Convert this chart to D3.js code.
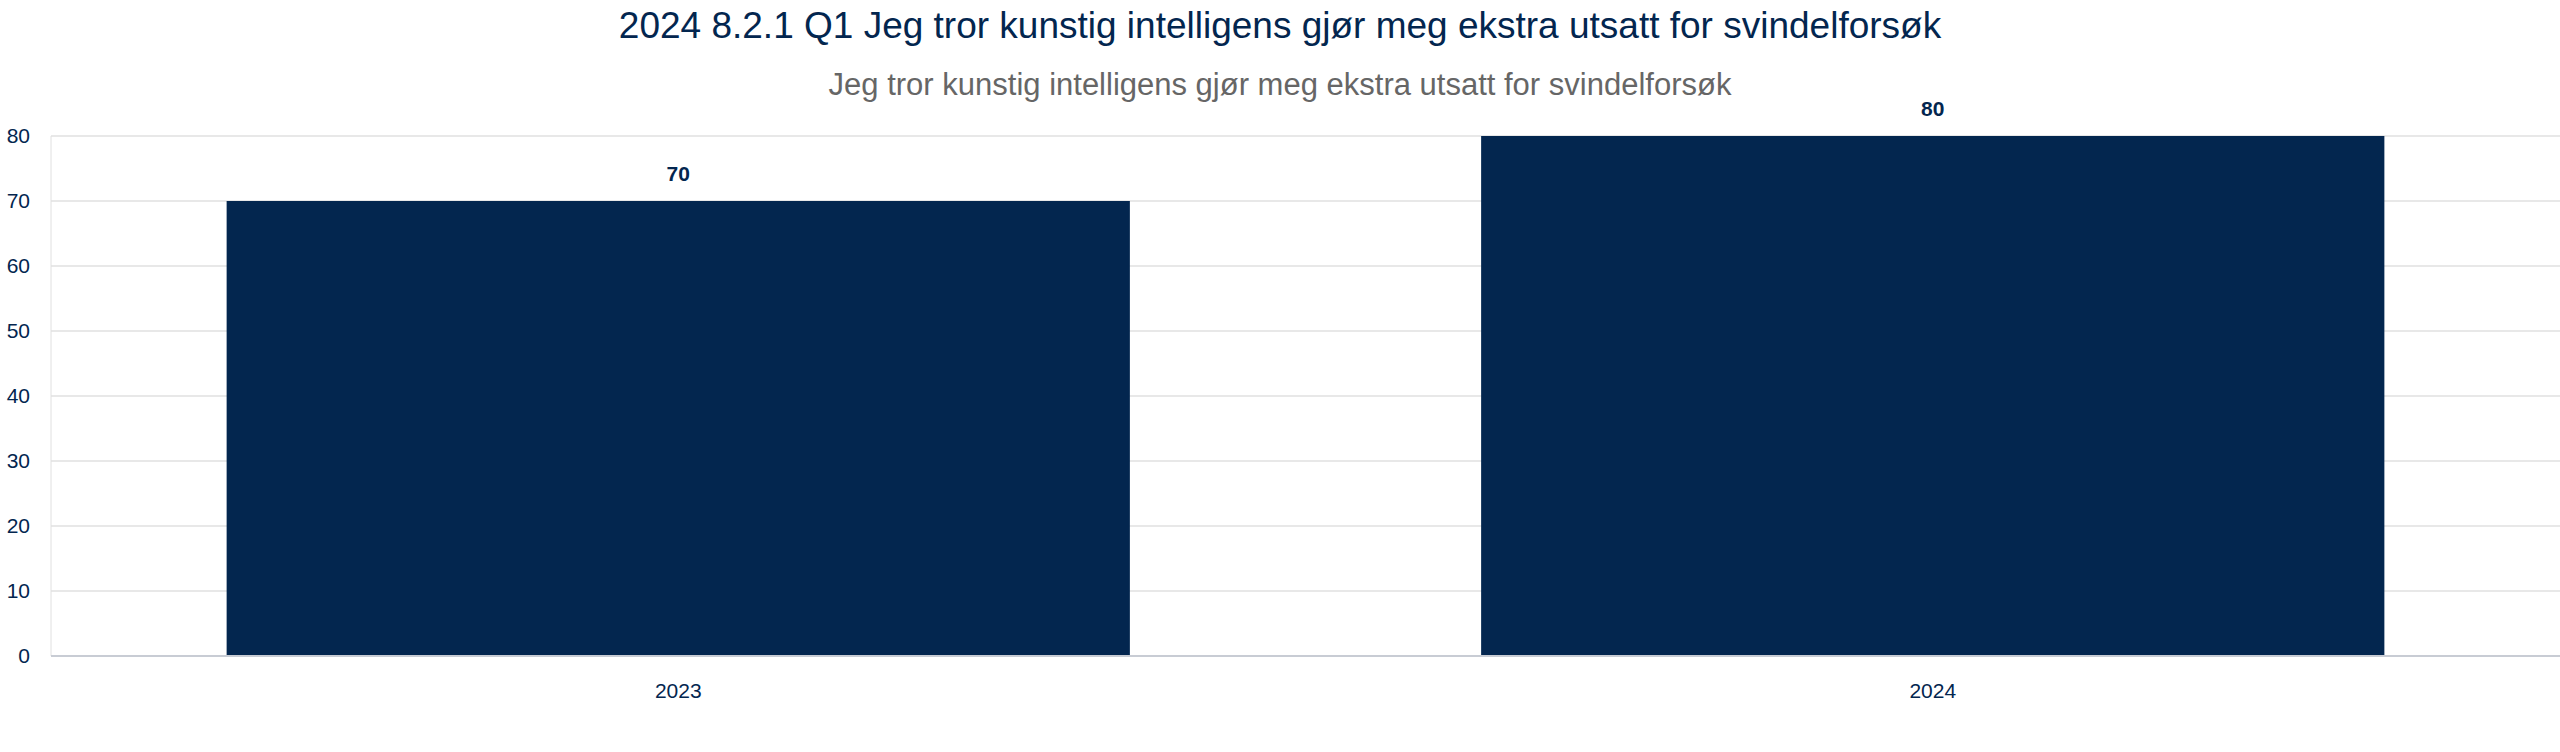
<!DOCTYPE html><html><head><meta charset="utf-8"><script src="https://cdn.jsdelivr.net/npm/d3@7"></script>
<style>body{margin:0;background:#fff}text{font-family:"Liberation Sans",Arial,sans-serif}</style></head><body><svg id="c" width="2560" height="752"></svg><script>
const categories=["2023","2024"];
const values=[70,80];
const yTicks=[0,10,20,30,40,50,60,70,80];
const title="2024 8.2.1 Q1 Jeg tror kunstig intelligens gjør meg ekstra utsatt for svindelforsøk";
const subtitle="Jeg tror kunstig intelligens gjør meg ekstra utsatt for svindelforsøk";
const svg=d3.select("#c");
const L=51,R=2560,T=136,B=656,navy="#03264f";
const x=d3.scaleBand().domain(categories).range([L,R]).paddingInner(0.28).paddingOuter(0.14);
const y=d3.scaleLinear().domain([0,80]).range([B,T]);
svg.append("g").selectAll("line").data(yTicks).join("line").attr("x1",L).attr("x2",R).attr("y1",d=>y(d)).attr("y2",d=>y(d)).attr("stroke","#e0e0e0").attr("stroke-width",1.5);
svg.append("line").attr("x1",L).attr("x2",L).attr("y1",T).attr("y2",B).attr("stroke","#e0e0e0");
svg.append("g").selectAll("text").data(yTicks).join("text").attr("x",30).attr("y",d=>y(d)+7).attr("text-anchor","end").attr("font-size",21).attr("fill",navy).text(d=>d);
svg.append("g").selectAll("rect").data(values).join("rect").attr("x",(d,i)=>x(categories[i])).attr("width",x.bandwidth()).attr("y",d=>y(d)).attr("height",d=>B-y(d)).attr("fill",navy);
svg.append("line").attr("x1",L).attr("x2",R).attr("y1",B).attr("y2",B).attr("stroke","#c8ccd4").attr("stroke-width",2);
svg.append("g").selectAll("text").data(values).join("text").attr("x",(d,i)=>x(categories[i])+x.bandwidth()/2).attr("y",d=>y(d)-20).attr("text-anchor","middle").attr("font-size",21).attr("font-weight","bold").attr("fill",navy).text(d=>d);
svg.append("g").selectAll("text").data(categories).join("text").attr("x",d=>x(d)+x.bandwidth()/2).attr("y",698).attr("text-anchor","middle").attr("font-size",21).attr("fill",navy).text(d=>d);
svg.append("text").attr("x",1280).attr("y",38).attr("text-anchor","middle").attr("font-size",37).attr("fill",navy).text(title);
svg.append("text").attr("x",1280).attr("y",95).attr("text-anchor","middle").attr("font-size",31).attr("fill","#666").text(subtitle);
</script></body></html>
